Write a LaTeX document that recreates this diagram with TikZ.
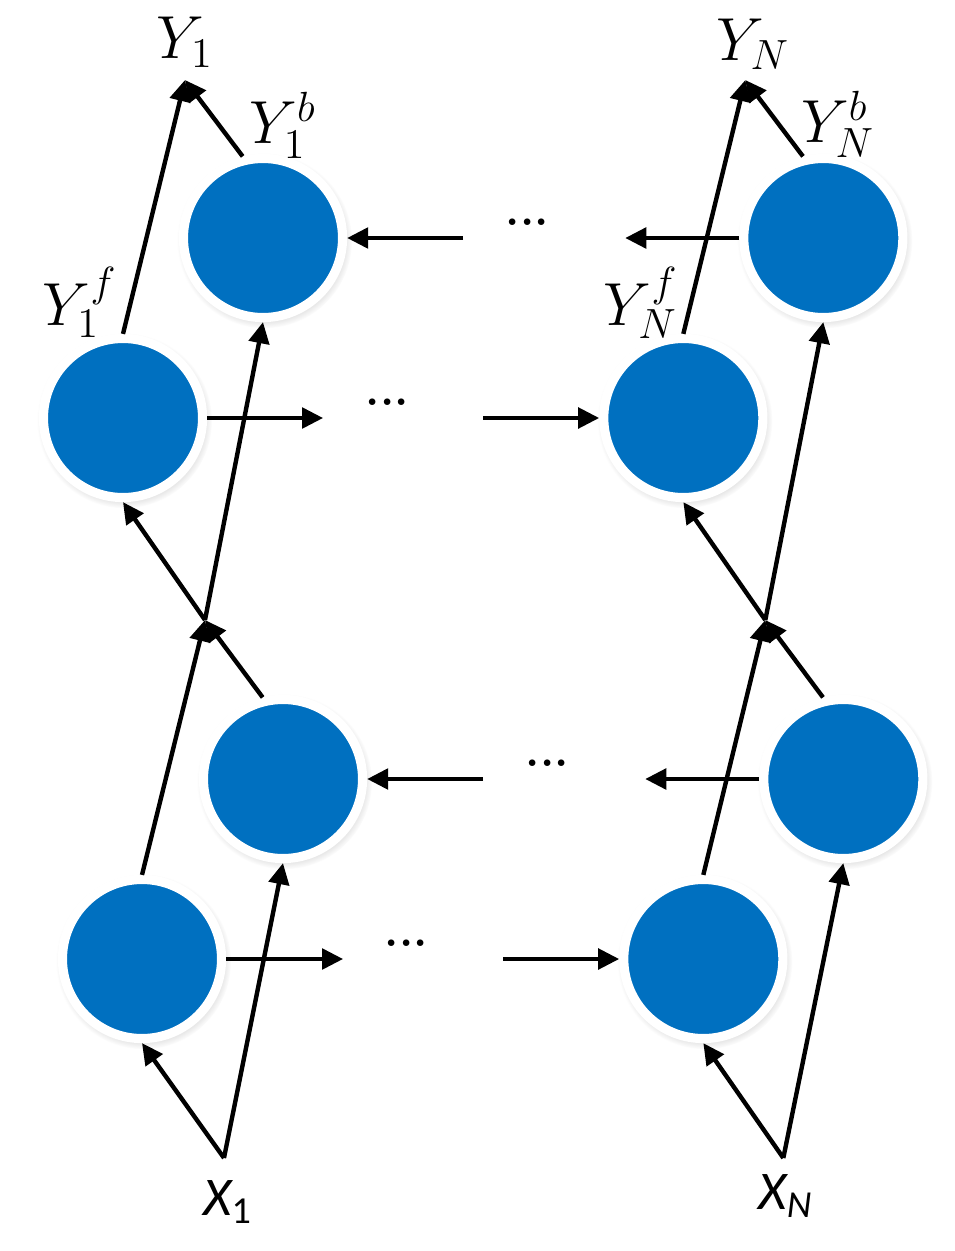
\documentclass[tikz,border=0pt]{standalone}
\usepackage{fontspec}
\newfontfamily\calfont{Carlito}
\usepackage{tikz}
\usetikzlibrary{arrows.meta,positioning,shadows,fadings}
\definecolor{nnblue}{RGB}{0,112,192}

\begin{document}
\begin{tikzpicture}[
  x=0.01cm, y=-0.01cm,
  on grid,
  unit/.style={circle, fill=nnblue, draw=white, line width=2.6pt, minimum size=1.59cm, inner sep=0pt,
    circular drop shadow={shadow xshift=0.4pt, shadow yshift=-0.7pt, shadow scale=1.1, opacity=0.35}},
  arrow/.style={-{Triangle[length=6pt,width=5.8pt]}, line width=1.25pt},
  lbl/.style={inner sep=0pt, font=\fontsize{17}{20}\selectfont},
  inlbl/.style={inner sep=0pt, font=\calfont\fontsize{15.5}{18}\selectfont\itshape},
  dots/.style={inner sep=0pt, font=\fontsize{13}{16}\selectfont\bfseries}
]
  \useasboundingbox (0,0) rectangle (954,1251);

  % first time step (left column)
  \node[unit] (f1b) at (142,959) {};
  \node[unit] (b1l) at (283,779) {};
  \node[unit] (f1t) at (123,418) {};
  \node[unit] (b1t) at (263,238) {};

  % last time step (right column), same layout shifted right
  \node[unit, right=5.61cm of f1b] (fNb) {};
  \node[unit, right=5.6cm of b1l] (bNl) {};
  \node[unit, right=5.6cm of f1t] (fNt) {};
  \node[unit, right=5.6cm of b1t] (bNt) {};

  % merge points, inputs and outputs
  \coordinate (j1) at (205,620);
  \coordinate[right=5.6cm of j1] (jN);
  \coordinate (y1) at (185,80);
  \coordinate[right=5.6cm of y1] (yN);
  \coordinate (x1) at (224,1158);
  \coordinate[right=5.59cm of x1] (xN);

  % labels
  \node[lbl] (ly1) at (185,42) {$Y_1$};
  \node[lbl] (ly1b) at (283,125) {$Y_1^b$};
  \node[lbl] (ly1f) at (80,302) {$Y_1^f$};
  \node[lbl] (lyN) at (753,44) {$Y_N$};
  \node[lbl] (lyNb) at (838,124) {$Y_N^b$};
  \node[lbl] (lyNf) at (641,303) {$Y_N^f$};
  \node[inlbl] (lx1) at (228,1202) {X\textsubscript{\upshape 1}};
  \node[inlbl] (lxN) at (786,1196) {X\textsubscript{N}};

  % recurrent rows: free ends 2cm from the outer units
  \coordinate[right=2cm of b1t] (b1t-r);
  \coordinate[left=1.98cm of bNt] (bNt-l);
  \coordinate[right=2cm of f1t] (f1t-r);
  \coordinate[left=2cm of fNt] (fNt-l);
  \coordinate[right=2cm of b1l] (b1l-r);
  \coordinate[left=1.98cm of bNl] (bNl-l);
  \coordinate[right=2.01cm of f1b] (f1b-r);
  \coordinate[left=2cm of fNb] (fNb-l);

  \draw[arrow] (b1t-r) -- (b1t.east);
  \draw[arrow] (bNt.west) -- (bNt-l);
  \draw[arrow] (f1t.east) -- (f1t-r);
  \draw[arrow] (fNt-l) -- (fNt.west);
  \draw[arrow] (b1l-r) -- (b1l.east);
  \draw[arrow] (bNl.west) -- (bNl-l);
  \draw[arrow] (f1b.east) -- (f1b-r);
  \draw[arrow] (fNb-l) -- (fNb.west);

  \node[dots, above right=0.16cm and 2.64cm of b1t] (d1) {...};
  \node[dots, above right=0.16cm and 2.64cm of f1t] (d2) {...};
  \node[dots, above right=0.16cm and 2.64cm of b1l] (d3) {...};
  \node[dots, above right=0.16cm and 2.64cm of f1b] (d4) {...};

  % inputs to first layer
  \draw[arrow] (x1) -- (f1b.south);
  \draw[arrow] (x1) -- (b1l.south);
  \draw[arrow] (xN) -- (fNb.south);
  \draw[arrow] (xN) -- (bNl.south);

  % first layer merged, then fed to second layer
  \draw[arrow] (f1b.north) -- (j1);
  \draw[arrow] (b1l.104) -- (j1);
  \draw[arrow] (j1) -- (f1t.south);
  \draw[arrow] (j1) -- (b1t.south);
  \draw[arrow] (fNb.north) -- (jN);
  \draw[arrow] (bNl.104) -- (jN);
  \draw[arrow] (jN) -- (fNt.south);
  \draw[arrow] (jN) -- (bNt.south);

  % second layer to outputs
  \draw[arrow] (f1t.north) -- (y1);
  \draw[arrow] (b1t.104) -- (y1);
  \draw[arrow] (fNt.north) -- (yN);
  \draw[arrow] (bNt.104) -- (yN);
\end{tikzpicture}
\end{document}
